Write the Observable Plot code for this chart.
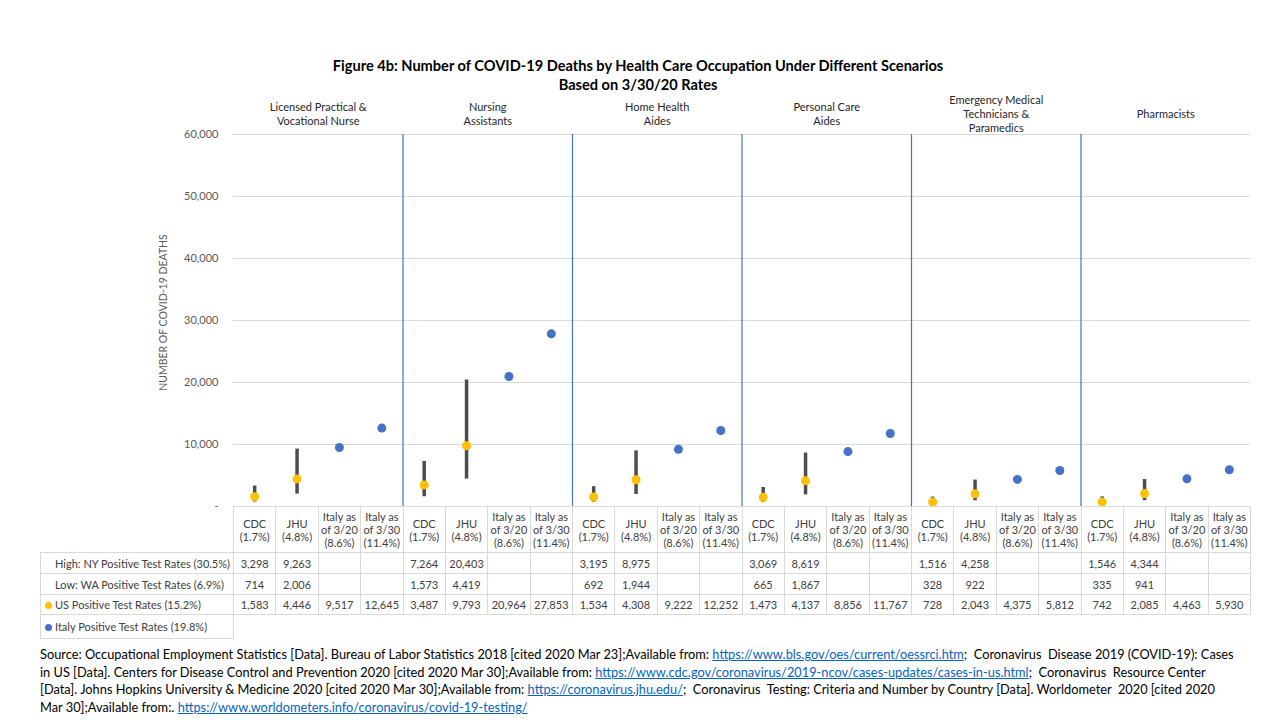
<!DOCTYPE html>
<html>
<head>
<meta charset="utf-8">
<script src="https://cdn.jsdelivr.net/npm/d3@7"></script>
<script src="https://cdn.jsdelivr.net/npm/@observablehq/plot@0.6"></script>
<style>
  body { margin: 0; background: #fff; font-family: Lato, "Open Sans", sans-serif; }
  #page { position: relative; width: 1280px; height: 720px; overflow: hidden; }
  #title { position: absolute; left: 0; width: 1276px; top: 56px; text-align: center; font-weight: bold; font-size: 14.6px; line-height: 19px; color: #000; }
  #chart { position: absolute; left: 0; top: 0; }
  #tbl { position: absolute; border-collapse: collapse; font-size: 11px; color: #404040; table-layout: fixed; }
  #tbl td { border: 1px solid #d9d9d9; text-align: center; padding: 0; white-space: nowrap; }
  #tbl td.lbl { text-align: left; padding-left: 14px; }
  #tbl td.blank { border: none; }
  #tbl tr.hdr td { line-height: 13px; }
  .key { display: inline-block; width: 7px; height: 7px; border-radius: 50%; margin: 0 3px 0 -10px; vertical-align: 0px; }
  #caption { position: absolute; left: 40px; top: 646px; font-size: 12.8px; line-height: 17.5px; color: #000; }
  #caption div { white-space: nowrap; }
  #caption a { color: #0563c1; text-decoration: underline; }
</style>
</head>
<body>
<div id="page">
  <div id="title">Figure 4b: Number of COVID-19 Deaths by Health Care Occupation Under Different Scenarios<br>Based on 3/30/20 Rates</div>
  <div id="chart"></div>
  <table id="tbl"></table>
  <div id="caption">
    <div>Source: Occupational Employment Statistics [Data]. Bureau of Labor Statistics 2018 [cited 2020 Mar 23];Available from: <a>https://www.bls.gov/oes/current/oessrci.htm</a>;&nbsp; Coronavirus&nbsp; Disease 2019 (COVID-19): Cases</div>
    <div>in US [Data]. Centers for Disease Control and Prevention 2020 [cited 2020 Mar 30];Available from: <a>https://www.cdc.gov/coronavirus/2019-ncov/cases-updates/cases-in-us.html</a>;&nbsp; Coronavirus&nbsp; Resource Center</div>
    <div>[Data]. Johns Hopkins University &amp; Medicine 2020 [cited 2020 Mar 30];Available from: <a>https://coronavirus.jhu.edu/</a>;&nbsp; Coronavirus&nbsp; Testing: Criteria and Number by Country [Data]. Worldometer&nbsp; 2020 [cited 2020</div>
    <div>Mar 30];Available from:. <a>https://www.worldometers.info/coronavirus/covid-19-testing/</a></div>
  </div>
</div>
<script>
// ---- data ----
const occupations = [
  "Licensed Practical &\nVocational Nurse",
  "Nursing\nAssistants",
  "Home Health\nAides",
  "Personal Care\nAides",
  "Emergency Medical\nTechnicians &\nParamedics",
  "Pharmacists"
];
const scenarios = ["CDC\n(1.7%)", "JHU\n(4.8%)", "Italy as\nof 3/20\n(8.6%)", "Italy as\nof 3/30\n(11.4%)"];
const highNY = [3298, 9263, null, null, 7264, 20403, null, null, 3195, 8975, null, null, 3069, 8619, null, null, 1516, 4258, null, null, 1546, 4344, null, null];
const lowWA  = [714, 2006, null, null, 1573, 4419, null, null, 692, 1944, null, null, 665, 1867, null, null, 328, 922, null, null, 335, 941, null, null];
const usRate = [1583, 4446, 9517, 12645, 3487, 9793, 20964, 27853, 1534, 4308, 9222, 12252, 1473, 4137, 8856, 11767, 728, 2043, 4375, 5812, 742, 2085, 4463, 5930];
const rowLabels = ["High: NY Positive Test Rates (30.5%)", "Low: WA Positive Test Rates (6.9%)", "US Positive Test Rates (15.2%)", "Italy Positive Test Rates (19.8%)"];
const yTicks = [0, 10000, 20000, 30000, 40000, 50000, 60000];
const colors = {US: "#ffc000", Italy: "#4472c4"};

const cols = usRate.map((v, i) => ({
  i,
  occ: Math.floor(i / 4),
  scen: i % 4,
  high: highNY[i],
  low: lowWA[i],
  value: v,
  kind: (i % 4) < 2 ? "US" : "Italy"
}));
const separators = occupations.slice(1).map((d, k) => (k + 1) * scenarios.length);
const fmt = d3.format(",");

const plot = Plot.plot({
  width: 1280,
  height: 521,
  marginTop: 134,
  marginBottom: 15,
  marginLeft: 233,
  marginRight: 30,
  style: {fontFamily: "Lato, 'Open Sans', sans-serif", background: "transparent"},
  x: {domain: [0, cols.length], axis: null},
  y: {domain: [0, 60000]},
  marks: [
    Plot.gridY(yTicks, {stroke: "#d9d9d9", strokeOpacity: 1}),
    Plot.axisY(yTicks, {
      tickSize: 0, tickPadding: 15, fontSize: 11, fill: "#595959",
      tickFormat: d => d === 0 ? "-" : fmt(d),
      label: "NUMBER OF COVID-19 DEATHS", labelAnchor: "center", labelArrow: "none", labelOffset: 74
    }),
    Plot.ruleX(separators, {stroke: "#4472c4", strokeWidth: 1.2}),
    Plot.ruleX(cols.filter(d => d.high != null), {x: d => d.i + 0.5, y1: "low", y2: "high", stroke: "#4d4d4d", strokeWidth: 3.5}),
    Plot.dot(cols, {x: d => d.i + 0.5, y: "value", r: 4.5, fill: d => colors[d.kind], stroke: "none"}),
    Plot.text(occupations, {x: (d, k) => k * scenarios.length + scenarios.length / 2, frameAnchor: "top", dy: -21, lineAnchor: "middle", fontSize: 11, fill: "#262626", lineHeight: 1.3})
  ]
});
document.getElementById("chart").appendChild(plot);

// y-axis label styling
d3.select(plot).selectAll("[aria-label='y-axis label'] text").each(function() {
  const t = d3.select(this);
  t.attr("fill", "#595959").attr("font-size", 10.5)
   .attr("transform", "translate(0,-8) " + (t.attr("transform") || ""));
});

// ---- data table aligned to the plot's x scale ----
const xs = plot.scale("x");
const ys = plot.scale("y");
const colW = xs.apply(1) - xs.apply(0);
const left0 = xs.apply(0);
const labelLeft = 40;
const tbl = d3.select("#tbl")
  .style("left", labelLeft + "px")
  .style("top", ys.apply(0) + "px")
  .style("width", (left0 - labelLeft + colW * cols.length + 1) + "px");
const cg = tbl.append("colgroup");
cg.append("col").style("width", (left0 - labelLeft) + "px");
cols.forEach(() => cg.append("col").style("width", colW + "px"));

const hdr = tbl.append("tr").attr("class", "hdr").style("height", "46px");
hdr.append("td").attr("class", "blank");
cols.forEach(c => hdr.append("td").html(scenarios[c.scen].split("\n").join("<br>")));

const series = [highNY, lowWA, usRate];
series.forEach((arr, r) => {
  const tr = tbl.append("tr").style("height", (r === 2 ? 20 : 21) + "px");
  const td = tr.append("td").attr("class", "lbl");
  if (r === 2) td.html(`<span class="key" style="background:${colors.US}"></span>` + rowLabels[r]);
  else td.text(rowLabels[r]);
  arr.forEach(v => tr.append("td").text(v == null ? "" : fmt(v)));
});
const trI = tbl.append("tr").style("height", "24px");
trI.append("td").attr("class", "lbl").html(`<span class="key" style="background:${colors.Italy}"></span>` + rowLabels[3]);
cols.forEach(() => trI.append("td").attr("class", "blank"));
</script>
</body>
</html>
